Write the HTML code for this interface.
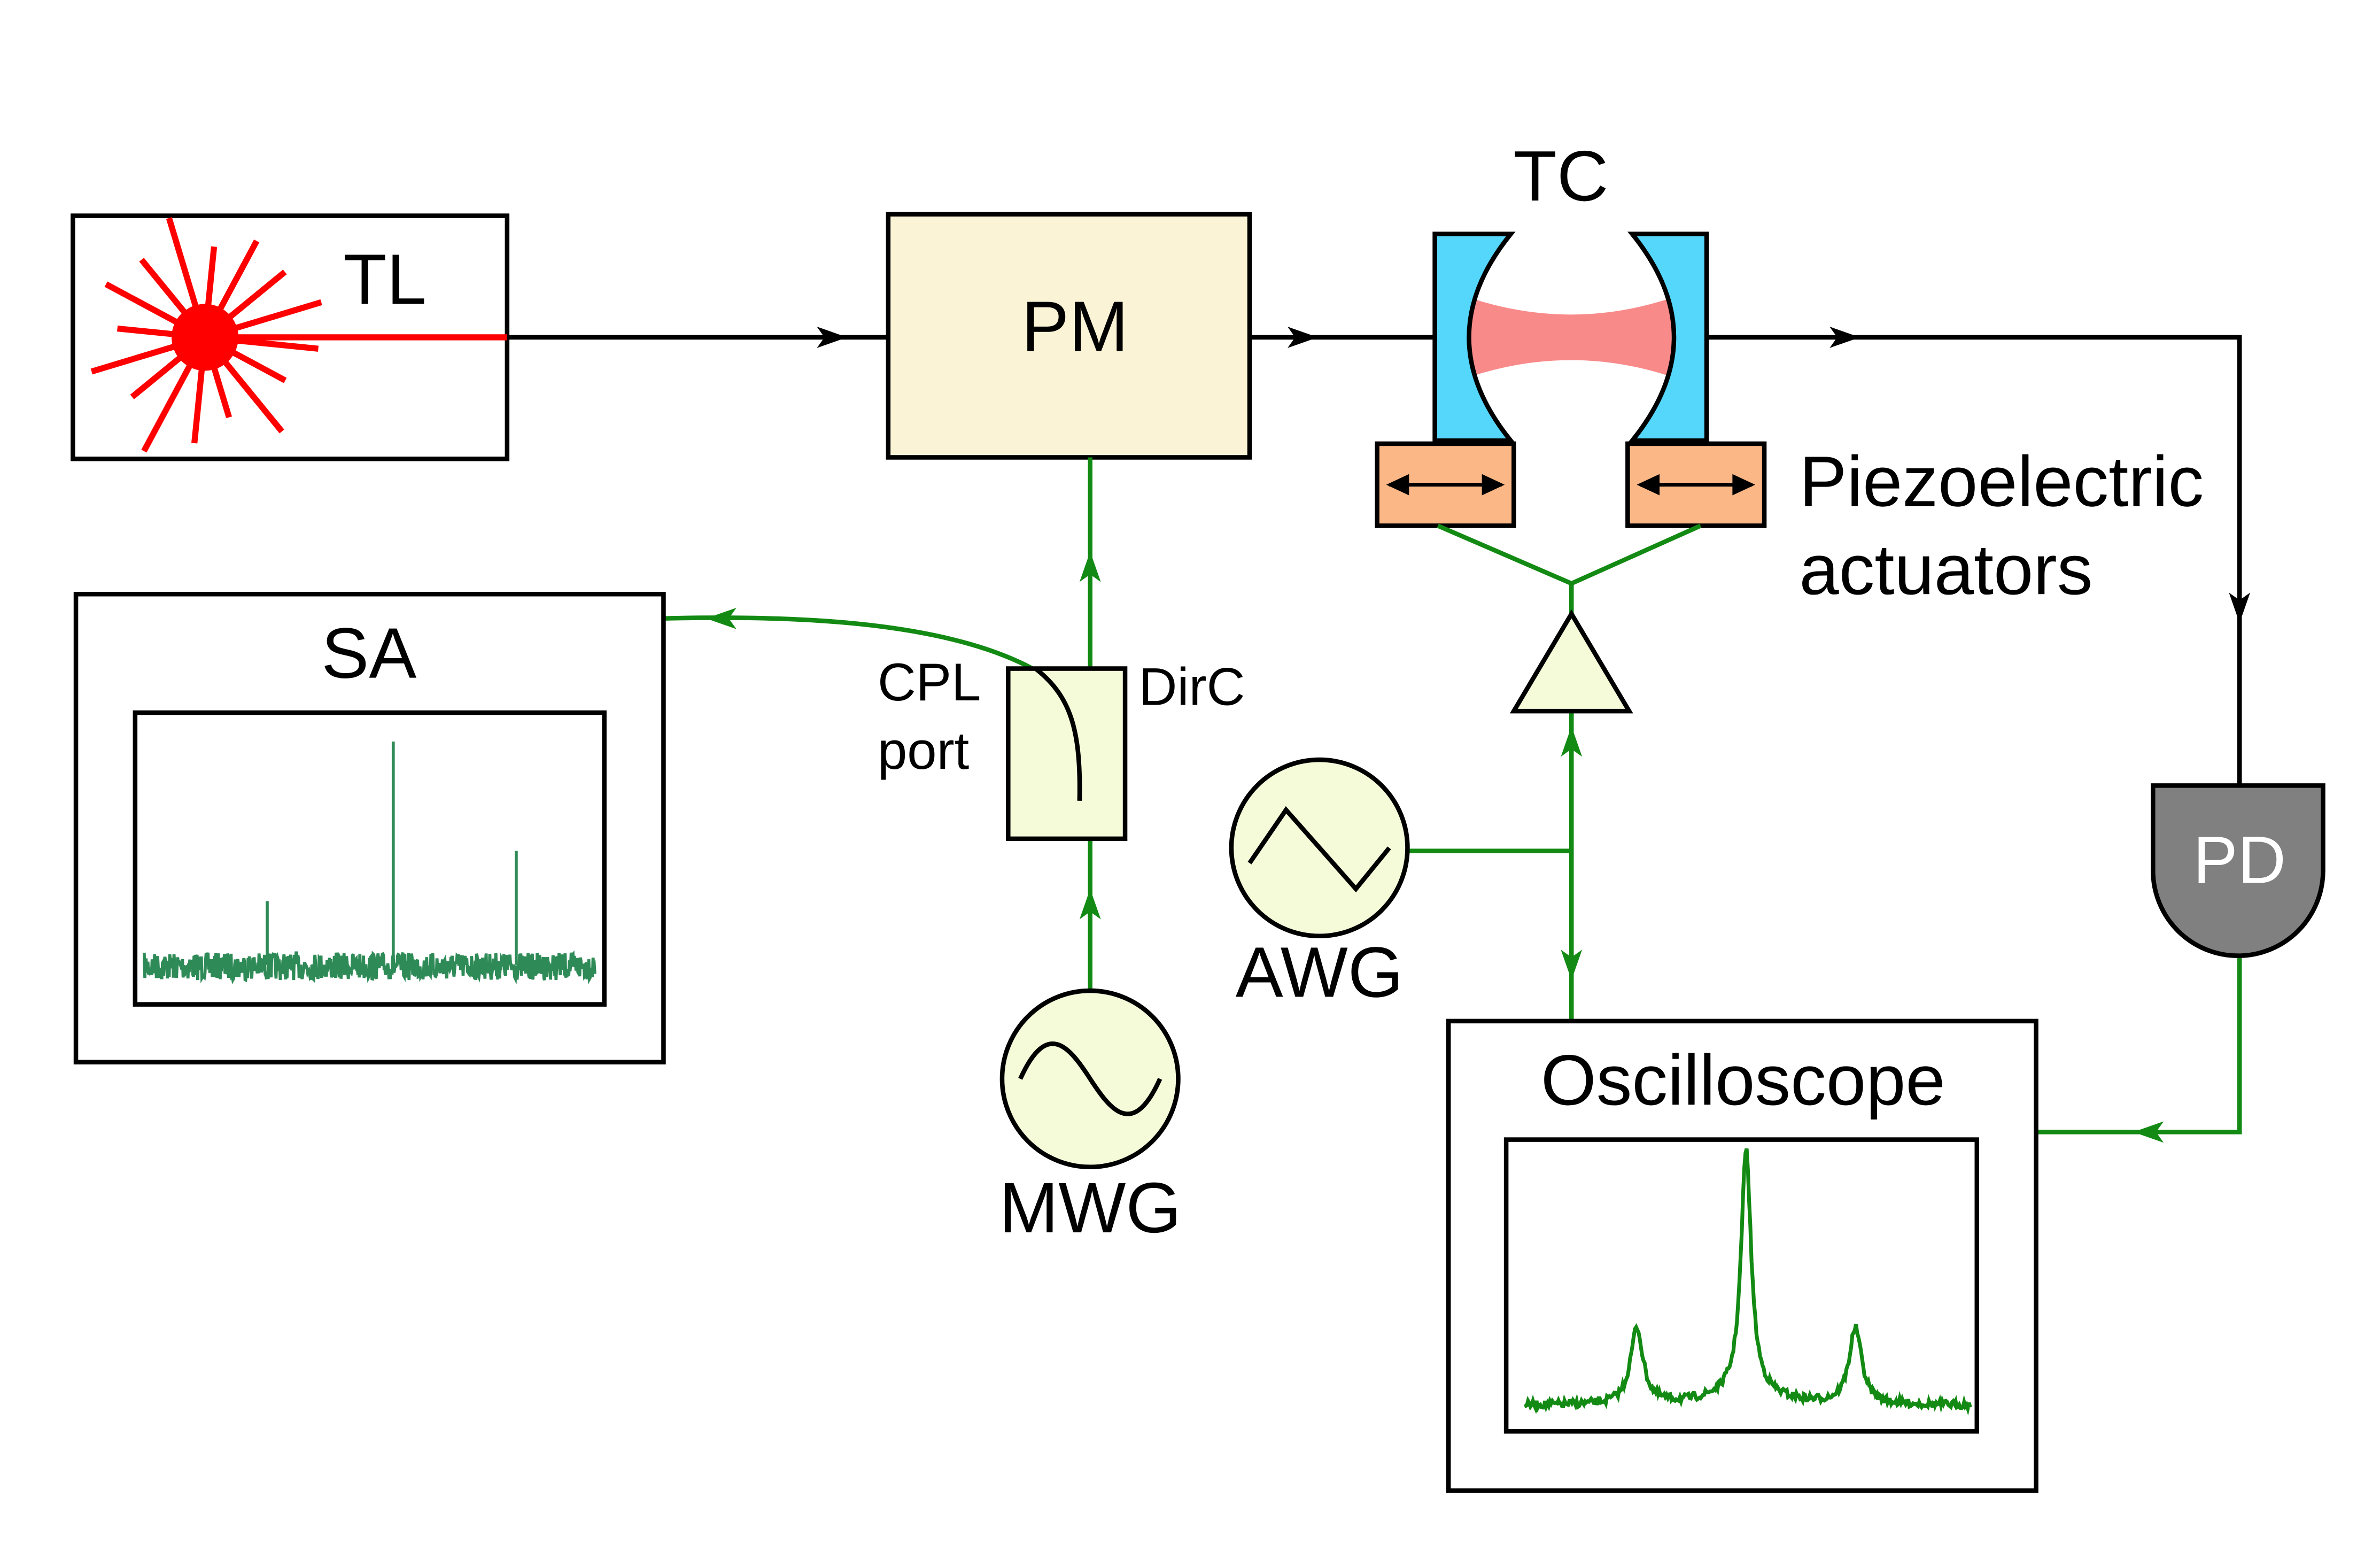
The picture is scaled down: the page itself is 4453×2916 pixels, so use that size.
<!DOCTYPE html>
<html><head><meta charset="utf-8"><style>
html,body{margin:0;padding:0;background:#fff}
svg{display:block}
text{font-family:"Liberation Sans",Arial,sans-serif}
</style></head><body>
<svg id="s" width="4453" height="2916" viewBox="0 0 1567.5 1026" preserveAspectRatio="none" xmlns="http://www.w3.org/2000/svg">
<rect width="1570" height="1030" fill="#fff"/>
<!-- TL -->
<rect x="48" y="142" width="286" height="160" fill="#fff" stroke="#000" stroke-width="3"/>
<g id="burst" stroke="#f00" stroke-width="4"></g>
<circle cx="135" cy="222" r="22" fill="#f00"/>
<line x1="135" y1="222" x2="334" y2="222" stroke="#f00" stroke-width="4"/>
<text x="226" y="200" font-size="47">TL</text>
<line x1="334" y1="222" x2="585" y2="222" stroke="#000" stroke-width="3"/>
<path d="M538,215 L558,222 L538,229 L543,222Z"/>
<rect x="585" y="141" width="238" height="160" fill="#fbf3d5" stroke="#000" stroke-width="3"/>
<text x="708" y="231" font-size="47" text-anchor="middle">PM</text>
<line x1="823" y1="222" x2="945" y2="222" stroke="#000" stroke-width="3"/>
<path d="M848,215 L868,222 L848,229 L853,222Z"/>
<!-- TC -->
<path d="M968,196 Q1035,218 1101,196 L1101,248 Q1035,226 968,248Z" fill="#f98a8a"/>
<path d="M945,154 L995,154 Q940,222 995,290 L945,290Z" fill="#55d6fb" stroke="#000" stroke-width="3"/>
<path d="M1124,154 L1075,154 Q1130,222 1075,290 L1124,290Z" fill="#55d6fb" stroke="#000" stroke-width="3"/>
<text x="1028" y="132" font-size="47" text-anchor="middle">TC</text>
<polyline points="1124,222 1475,222 1475,517" fill="none" stroke="#000" stroke-width="3"/>
<path d="M1205,215 L1225,222 L1205,229 L1210,222Z"/>
<path d="M1468,390 L1475,410 L1482,390 L1475,395Z"/>
<!-- piezos -->
<rect x="907" y="292" width="90" height="54" fill="#fbb785" stroke="#000" stroke-width="3"/>
<rect x="1072" y="292" width="90" height="54" fill="#fbb785" stroke="#000" stroke-width="3"/>
<g stroke="#000" stroke-width="2.5">
<line x1="915" y1="319" x2="989" y2="319"/><line x1="1080" y1="319" x2="1154" y2="319"/></g>
<path d="M913,319 L928,312 L928,326Z M991,319 L976,312 L976,326Z M1078,319 L1093,312 L1093,326Z M1156,319 L1141,312 L1141,326Z"/>
<text x="1185" y="333" font-size="47">Piezoelectric</text>
<text x="1185" y="391" font-size="47">actuators</text>
<g stroke="#138a13" stroke-width="3" fill="none">
<polyline points="947,346 1035,384 1120,346"/>
<line x1="1035" y1="384" x2="1035" y2="404"/>
<line x1="1035" y1="468" x2="1035" y2="672"/>
<line x1="927" y1="560" x2="1035" y2="560"/>
<polyline points="1475,630 1475,745 1341,745"/>
<line x1="718" y1="652" x2="718" y2="301"/>
<path d="M437,407 C520,405 620,408 680,440"/>
</g>
<g fill="#138a13">
<path d="M1028,498 L1035,478 L1042,498 L1035,493Z"/>
<path d="M1028,625 L1035,645 L1042,625 L1035,630Z"/>
<path d="M1425,738 L1405,745 L1425,752 L1420,745Z"/>
<path d="M711,605 L718,585 L725,605 L718,600Z"/>
<path d="M711,383 L718,363 L725,383 L718,378Z"/>
<path d="M485,400 L465,407 L485,414 L480,407Z"/>
</g>
<path d="M1035,404 L1073,468 L997,468Z" fill="#f5fbd9" stroke="#000" stroke-width="3"/>
<!-- AWG -->
<circle cx="869" cy="558" r="58" fill="#f5fbd9" stroke="#000" stroke-width="3"/>
<polyline points="823,568 847,533 893,585 915,558" fill="none" stroke="#000" stroke-width="3"/>
<text x="869" y="656" font-size="47" text-anchor="middle">AWG</text>
<!-- PD -->
<path d="M1418,517 L1530,517 L1530,573 A56,56 0 0 1 1418,573Z" fill="#808080" stroke="#000" stroke-width="3"/>
<text x="1475" y="581" font-size="44" fill="#fff" text-anchor="middle">PD</text>
<!-- Scope -->
<rect x="954" y="672" width="387" height="309" fill="#fff" stroke="#000" stroke-width="3"/>
<rect x="992" y="750" width="310" height="192" fill="#fff" stroke="#000" stroke-width="3"/>
<text x="1148" y="727" font-size="47" text-anchor="middle">Oscilloscope</text>
<path id="scope" fill="none" stroke="#138a13" stroke-width="2.5"/>
<!-- MWG -->
<circle cx="718" cy="710" r="58" fill="#f5fbd9" stroke="#000" stroke-width="3"/>
<path d="M672,710 C690,670 705,690 718,710 C731,730 746,750 764,710" fill="none" stroke="#000" stroke-width="3"/>
<text x="718" y="811" font-size="47" text-anchor="middle">MWG</text>
<!-- DirC -->
<rect x="664" y="440" width="77" height="112" fill="#f5fbd9" stroke="#000" stroke-width="3"/>
<path d="M682,440 C705,458 712,480 711,527" fill="none" stroke="#000" stroke-width="3"/>
<text x="578" y="461" font-size="35">CPL</text>
<text x="578" y="506" font-size="35">port</text>
<text x="750" y="464" font-size="35">DirC</text>
<!-- SA -->
<rect x="50" y="391" width="387" height="308" fill="#fff" stroke="#000" stroke-width="3"/>
<rect x="89" y="469" width="309" height="192" fill="#fff" stroke="#000" stroke-width="3"/>
<text x="243" y="446" font-size="47" text-anchor="middle">SA</text>
<path id="sa" fill="none" stroke="#2e8b57" stroke-width="2"/>
<g stroke="#2e8b57" stroke-width="2"><line x1="176" y1="635" x2="176" y2="593"/><line x1="259" y1="635" x2="259" y2="488"/><line x1="340" y1="635" x2="340" y2="560"/></g>
</svg>
<script>
var ns="http://www.w3.org/2000/svg",g=document.getElementById("burst");
var L=[75,60,80,55,70,85,62,78,58,74,66,82,60,72,68,80];
for(var i=0;i<16;i++){var a=i*Math.PI/8+0.1,r=L[i];var l=document.createElementNS(ns,"line");
l.setAttribute("x1",135);l.setAttribute("y1",222);l.setAttribute("x2",135+r*Math.cos(a));l.setAttribute("y2",222+r*Math.sin(a));g.appendChild(l);}
var seed=7;function rnd(){seed=(seed*16807)%2147483647;return seed/2147483647;}
var d="M95,635";for(var x=95;x<=392;x+=0.4){d+=" L"+x.toFixed(1)+","+(627+rnd()*18).toFixed(1);}
document.getElementById("sa").setAttribute("d",d);
d="";for(var x=1004;x<=1298;x+=0.8){var y=925-50/(1+Math.pow((x-1078)/5,2))-160/(1+Math.pow((x-1150)/4,2))-50/(1+Math.pow((x-1222)/5,2))-8/(1+Math.pow((x-1150)/25,2))+(rnd()-0.5)*5;
d+=(d?" L":"M")+x.toFixed(1)+","+y.toFixed(1);}
document.getElementById("scope").setAttribute("d",d);
</script>
</body></html>
